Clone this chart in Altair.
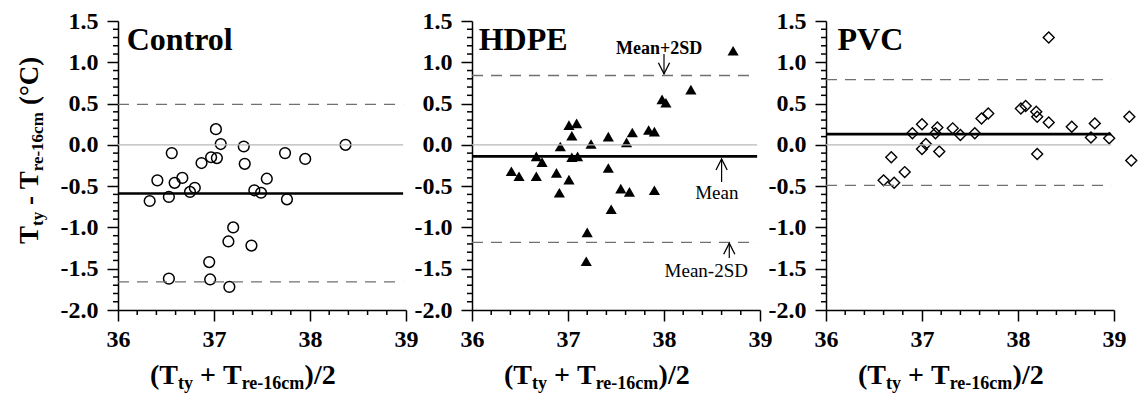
import altair as alt
import pandas as pd

# ---------------- data ----------------
ctrl_x = [36.33, 36.41, 36.53, 36.56, 36.59, 36.67, 36.75, 36.80, 36.87, 36.97,
          37.02, 37.03, 37.07, 37.31, 37.32, 37.42, 37.49, 37.55, 37.74, 37.76,
          37.95, 38.37, 37.20, 37.15, 37.39, 36.95, 36.53, 36.96, 37.16]
ctrl_y = [-0.68, -0.43, -0.63, -0.10, -0.46, -0.40, -0.57, -0.52, -0.22, -0.15,
          0.19, -0.16, 0.01, -0.02, -0.23, -0.55, -0.58, -0.41, -0.10, -0.66,
          -0.17, 0.00, -1.00, -1.17, -1.22, -1.42, -1.62, -1.63, -1.72]

hdpe_x = [38.72, 38.28, 37.98, 38.02, 37.01, 37.09, 37.04, 36.92, 37.24, 37.42,
          37.67, 37.61, 37.84, 37.90, 36.67, 36.73, 37.04, 37.10, 36.41, 36.49,
          36.67, 36.88, 37.01, 36.91, 37.42, 37.55, 37.64, 37.90, 37.45, 37.20, 37.19]
hdpe_y = [1.14, 0.67, 0.55, 0.51, 0.24, 0.26, 0.11, -0.02, 0.01, 0.10,
          0.15, 0.03, 0.18, 0.16, -0.14, -0.21, -0.15, -0.14, -0.32, -0.38,
          -0.38, -0.34, -0.42, -0.58, -0.28, -0.53, -0.57, -0.55, -0.78, -1.06, -1.41]

pvc_x = [38.32, 38.03, 38.08, 38.19, 38.20, 38.32, 38.56, 38.80, 38.76, 38.95,
         39.16, 39.18, 38.20, 37.62, 37.69, 37.55, 37.40, 37.32, 37.16, 37.14,
         37.00, 36.90, 37.04, 37.00, 37.18, 36.68, 36.82, 36.60, 36.71]
pvc_y = [1.30, 0.44, 0.47, 0.40, 0.34, 0.27, 0.22, 0.26, 0.09, 0.08,
         0.34, -0.19, -0.11, 0.32, 0.38, 0.14, 0.12, 0.20, 0.21, 0.14,
         0.25, 0.14, 0.01, -0.05, -0.08, -0.15, -0.33, -0.43, -0.46]

# mean, mean+2SD, mean-2SD
ctrl_lines = [-0.59, 0.49, -1.66]
hdpe_lines = [-0.14, 0.84, -1.18]
pvc_lines = [0.13, 0.79, -0.49]

panel_names = ["Control", "HDPE", "PVC"]

# annotations (HDPE panel)
ann_text = ["Mean+2SD", "Mean", "Mean-2SD"]
ann_text_x = [37.95, 38.55, 38.44]
ann_text_y = [1.16, -0.58, -1.53]
arrow_x = [38.0, 38.6, 38.68]
arrow_from = [1.10, -0.45, -1.37]
arrow_to = [0.86, -0.17, -1.19]

x_major = [36, 37, 38, 39]
y_major = [-2.0, -1.5, -1.0, -0.5, 0.0, 0.5, 1.0, 1.5]
x_minor = [round(36 + 0.2 * i, 1) for i in range(16) if i % 5 != 0]
y_minor = [round(-2 + 0.1 * i, 1) for i in range(36) if i % 5 != 0]

# ---------------- styling ----------------
FONT = "Liberation Serif"
W, H = 288, 289
LINE_END = 38.97
XS = alt.Scale(domain=[36, 39], nice=False, zero=False)
YS = alt.Scale(domain=[-2, 1.5], nice=False, zero=False)

AX = dict(title=None, grid=False, labelFlush=False, labelOverlap=False,
          labelFont=FONT, labelFontSize=24, labelFontWeight="bold", labelColor="black",
          tickSize=11, tickColor="black", tickWidth=1.5, domainColor="black", domainWidth=1.5)
xaxis = alt.Axis(values=x_major, format="d", labelPadding=6, **AX)
yaxis = alt.Axis(values=y_major,
                 labelExpr="(datum.value < -0.001 ? '-' : '') + format(abs(datum.value), '.1f')",
                 labelPadding=9, **AX)


def XE(field="x"):
    return alt.X(f"{field}:Q", scale=XS, axis=xaxis)


def YE(field="y"):
    return alt.Y(f"{field}:Q", scale=YS, axis=yaxis)


BW = {'(': 0.333, 'T': 0.667, 't': 0.333, 'y': 0.5, ' ': 0.25, '+': 0.570, 'r': 0.444,
      'e': 0.444, '-': 0.333, '1': 0.5, '6': 0.5, 'c': 0.444, 'm': 0.833, ')': 0.333,
      '/': 0.278, '2': 0.5, '°': 0.4, 'C': 0.722}


def tw(s, size):
    return sum(BW[c] for c in s) * size


def text_piece(s, size, x, y, angle=0, weight="bold", align="left"):
    kw = dict(font=FONT, fontSize=size, fontWeight=weight, align=align,
              baseline="alphabetic", color="black")
    if angle:
        kw["angle"] = angle
    return alt.Chart(pd.DataFrame({"t": [s]})).mark_text(**kw).encode(
        x=alt.value(x), y=alt.value(y), text="t:N")


def x_title_layers(x0):
    F, f = 28, 18
    base = H + 74
    segs = [("(T", F, 0, 0), ("ty", f, 5, 0), ("+", F, 0, tw(" ", F)),
            ("T", F, 0, tw(" ", F)), ("re-16cm", f, 5, 0), (")/2", F, 0, 0)]
    out, cur = [], x0
    for s, size, dy, pre in segs:
        cur += pre
        out.append(text_piece(s, size, cur, base + dy))
        cur += tw(s, size)
    return out


def y_title_layers():
    F, f = 27, 17
    start = 223
    bx = -80
    segs = [("T", F, 0, 0), ("ty", f, 5, 0), ("-", F, 0, tw(" ", F)),
            ("T", F, 0, tw(" ", F)), ("re-16cm", f, 5, 0), ("(°C)", F, 0, tw(" ", F))]
    out, cur = [], start
    for s, size, dx, pre in segs:
        cur -= pre
        out.append(text_piece(s, size, bx + dx, cur, angle=270))
        cur -= tw(s, size)
    return out


def hline(yv, color, width, dash=None):
    df = pd.DataFrame({"x": [36.0], "x2": [LINE_END], "y": [yv]})
    kw = dict(color=color, strokeWidth=width)
    if dash:
        kw["strokeDash"] = dash
    return alt.Chart(df).mark_rule(**kw).encode(x=XE(), x2="x2:Q", y=YE())


def minor_ticks():
    xt = alt.Chart(pd.DataFrame({"x": x_minor})).mark_rule(color="black", strokeWidth=1.5).encode(
        x=XE(), y=alt.value(H), y2=alt.value(H + 5))
    yt = alt.Chart(pd.DataFrame({"y": y_minor})).mark_rule(color="black", strokeWidth=1.5).encode(
        y=YE(), x=alt.value(0), x2=alt.value(-5))
    return [xt, yt]


def panel(name, xs, ys, lines, shape, filled, size, sw, title_x, ytitle=False, ann=False):
    mean, up, lo = lines
    pts = alt.Chart(pd.DataFrame({"x": xs, "y": ys})).mark_point(
        shape=shape, filled=filled, color="black", size=size, strokeWidth=sw, opacity=1
    ).encode(x=XE(), y=YE())
    layers = [
        pts,
        hline(0.0, "#b8b8b8", 1.2),
        hline(up, "#707070", 1.3, [11, 8]),
        hline(lo, "#707070", 1.3, [11, 8]),
        hline(mean, "black", 2.6),
    ] + minor_ticks()
    ttl = alt.Chart(pd.DataFrame({"x": [title_x], "y": [1.27], "t": [name]})).mark_text(
        font=FONT, fontSize=32, fontWeight="bold", align="left", baseline="middle", color="black"
    ).encode(x=XE(), y=YE(), text="t:N")
    layers.append(ttl)
    if ann:
        weights = ["bold", "normal", "normal"]
        sizes = [18, 19, 19]
        for i in range(3):
            layers.append(alt.Chart(pd.DataFrame({"x": [ann_text_x[i]], "y": [ann_text_y[i]], "t": [ann_text[i]]})).mark_text(
                font=FONT, fontSize=sizes[i], fontWeight=weights[i], align="center", baseline="middle", color="black"
            ).encode(x=XE(), y=YE(), text="t:N"))
            layers.append(alt.Chart(pd.DataFrame({"x": [arrow_x[i]], "y": [arrow_from[i]], "y2": [arrow_to[i]]})).mark_rule(
                color="black", strokeWidth=1.2
            ).encode(x=XE(), y=YE(), y2="y2:Q"))
            head = "M -0.5 -1 L 0 0 L 0.5 -1" if arrow_to[i] < arrow_from[i] else "M -0.5 1 L 0 0 L 0.5 1"
            layers.append(alt.Chart(pd.DataFrame({"x": [arrow_x[i]], "y": [arrow_to[i]]})).mark_point(
                shape=head, filled=False, color="black", strokeWidth=1.3, size=500, opacity=1
            ).encode(x=XE(), y=YE()))
    layers += x_title_layers(32)
    if ytitle:
        layers += y_title_layers()
    return alt.layer(*layers).properties(width=W, height=H)


p1 = panel(panel_names[0], ctrl_x, ctrl_y, ctrl_lines, "circle", False, 115, 1.5, 36.09, ytitle=True)
p2 = panel(panel_names[1], hdpe_x, hdpe_y, hdpe_lines, "triangle-up", True, 125, 0.5, 36.07, ann=True)
p3 = panel(panel_names[2], pvc_x, pvc_y, pvc_lines, "diamond", False, 120, 1.4, 36.12)

chart = alt.hconcat(p1, p2, p3, spacing=66, bounds="flush").properties(
    padding={"left": 16, "top": 9, "right": 0, "bottom": 0},
    background="white",
).configure_view(strokeWidth=0).configure_axis(
    labelFont=FONT, labelFontSize=24, labelFontWeight="bold", labelColor="black",
    tickColor="black", tickWidth=1.5, domainColor="black", domainWidth=1.5,
)

chart.save("out.html", embed_options={"renderer": "svg", "actions": False})
